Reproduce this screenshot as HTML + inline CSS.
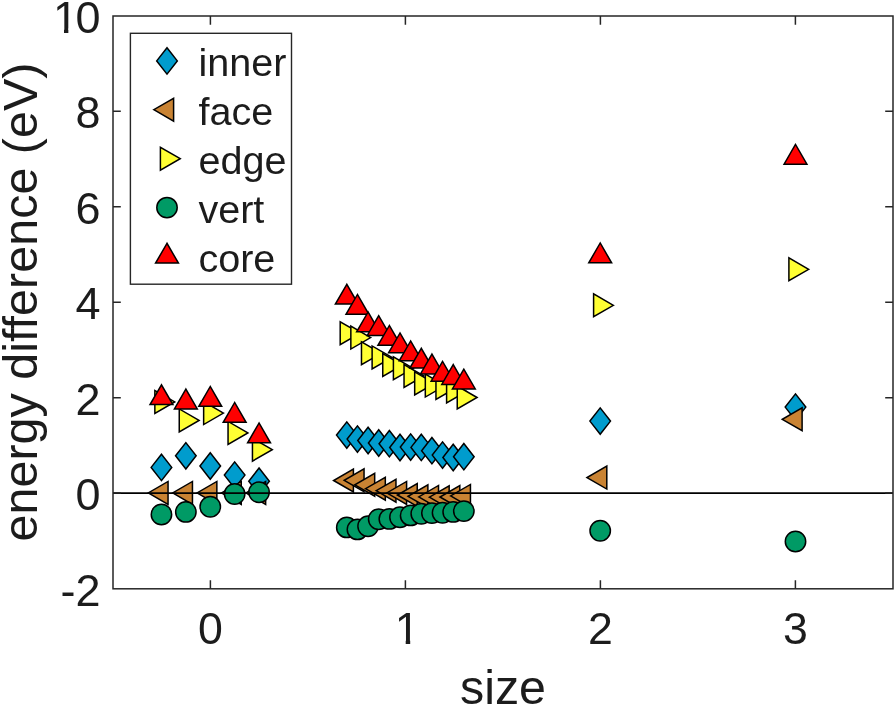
<!DOCTYPE html>
<html><head><meta charset="utf-8"><title>energy difference vs size</title>
<style>html,body{margin:0;padding:0;background:#fff}svg{display:block}text{font-family:"Liberation Sans",Arial,sans-serif;fill:#1c1c1c}</style></head><body>
<svg width="895" height="705" viewBox="0 0 895 705">
<rect width="895" height="705" fill="#fff"/>
<defs><clipPath id="ca"><rect x="40" y="0" width="70" height="28.5"/><rect x="64" y="20" width="4.35" height="20"/><rect x="76.4" y="20" width="35" height="20"/></clipPath>
<clipPath id="cb"><rect x="380" y="600" width="50" height="40.0"/><rect x="405.7" y="630" width="4.5" height="20"/></clipPath></defs>
<g fill="#009CCD" stroke="#000" stroke-width="1.5" stroke-linejoin="miter">
<path d="M161.45 454.20L171.75 467.40L161.45 480.60L151.15 467.40Z"/>
<path d="M185.85 442.60L196.15 455.80L185.85 469.00L175.55 455.80Z"/>
<path d="M210.25 452.80L220.55 466.00L210.25 479.20L199.95 466.00Z"/>
<path d="M234.65 461.90L244.95 475.10L234.65 488.30L224.35 475.10Z"/>
<path d="M259.05 468.00L269.35 481.20L259.05 494.40L248.75 481.20Z"/>
<path d="M346.80 421.90L357.10 435.10L346.80 448.30L336.50 435.10Z"/>
<path d="M357.44 425.90L367.74 439.10L357.44 452.30L347.14 439.10Z"/>
<path d="M368.08 427.30L378.38 440.50L368.08 453.70L357.78 440.50Z"/>
<path d="M378.72 429.80L389.02 443.00L378.72 456.20L368.42 443.00Z"/>
<path d="M389.36 430.50L399.66 443.70L389.36 456.90L379.06 443.70Z"/>
<path d="M400.00 434.30L410.30 447.50L400.00 460.70L389.70 447.50Z"/>
<path d="M410.64 433.90L420.94 447.10L410.64 460.30L400.34 447.10Z"/>
<path d="M421.28 434.20L431.58 447.40L421.28 460.60L410.98 447.40Z"/>
<path d="M431.92 437.50L442.22 450.70L431.92 463.90L421.62 450.70Z"/>
<path d="M442.56 441.90L452.86 455.10L442.56 468.30L432.26 455.10Z"/>
<path d="M453.20 444.30L463.50 457.50L453.20 470.70L442.90 457.50Z"/>
<path d="M463.84 443.50L474.14 456.70L463.84 469.90L453.54 456.70Z"/>
<path d="M600.20 407.90L610.50 421.10L600.20 434.30L589.90 421.10Z"/>
<path d="M795.50 393.90L805.80 407.10L795.50 420.30L785.20 407.10Z"/>
</g>
<g fill="#C98333" stroke="#000" stroke-width="1.5" stroke-linejoin="miter">
<path d="M148.25 492.90L168.05 504.33L168.05 481.47Z"/>
<path d="M172.65 492.90L192.45 504.33L192.45 481.47Z"/>
<path d="M197.05 492.90L216.85 504.33L216.85 481.47Z"/>
<path d="M221.45 492.90L241.25 504.33L241.25 481.47Z"/>
<path d="M245.85 492.90L265.65 504.33L265.65 481.47Z"/>
<path d="M333.60 480.50L353.40 491.93L353.40 469.07Z"/>
<path d="M344.24 480.30L364.04 491.73L364.04 468.87Z"/>
<path d="M354.88 484.80L374.68 496.23L374.68 473.37Z"/>
<path d="M365.52 488.70L385.32 500.13L385.32 477.27Z"/>
<path d="M376.16 490.70L395.96 502.13L395.96 479.27Z"/>
<path d="M386.80 492.90L406.60 504.33L406.60 481.47Z"/>
<path d="M397.44 495.00L417.24 506.43L417.24 483.57Z"/>
<path d="M408.08 496.30L427.88 507.73L427.88 484.87Z"/>
<path d="M418.72 496.90L438.52 508.33L438.52 485.47Z"/>
<path d="M429.36 497.20L449.16 508.63L449.16 485.77Z"/>
<path d="M440.00 497.00L459.80 508.43L459.80 485.57Z"/>
<path d="M450.64 495.90L470.44 507.33L470.44 484.47Z"/>
<path d="M587.00 477.60L606.80 489.03L606.80 466.17Z"/>
<path d="M782.30 419.30L802.10 430.73L802.10 407.87Z"/>
</g>
<g fill="#FFFF33" stroke="#000" stroke-width="1.5" stroke-linejoin="miter">
<path d="M174.65 401.90L154.85 390.47L154.85 413.33Z"/>
<path d="M199.05 420.40L179.25 408.97L179.25 431.83Z"/>
<path d="M223.45 413.10L203.65 401.67L203.65 424.53Z"/>
<path d="M247.85 432.90L228.05 421.47L228.05 444.33Z"/>
<path d="M272.25 449.70L252.45 438.27L252.45 461.13Z"/>
<path d="M360.00 333.20L340.20 321.77L340.20 344.63Z"/>
<path d="M370.64 337.60L350.84 326.17L350.84 349.03Z"/>
<path d="M381.28 353.30L361.48 341.87L361.48 364.73Z"/>
<path d="M391.92 357.40L372.12 345.97L372.12 368.83Z"/>
<path d="M402.56 365.00L382.76 353.57L382.76 376.43Z"/>
<path d="M413.20 368.30L393.40 356.87L393.40 379.73Z"/>
<path d="M423.84 376.00L404.04 364.57L404.04 387.43Z"/>
<path d="M434.48 383.40L414.68 371.97L414.68 394.83Z"/>
<path d="M445.12 385.60L425.32 374.17L425.32 397.03Z"/>
<path d="M455.76 387.90L435.96 376.47L435.96 399.33Z"/>
<path d="M466.40 391.50L446.60 380.07L446.60 402.93Z"/>
<path d="M477.04 397.50L457.24 386.07L457.24 408.93Z"/>
<path d="M613.40 305.30L593.60 293.87L593.60 316.73Z"/>
<path d="M808.70 269.30L788.90 257.87L788.90 280.73Z"/>
</g>
<g fill="#009A65" stroke="#000" stroke-width="1.5" stroke-linejoin="miter">
<circle cx="161.45" cy="514.50" r="10.2"/>
<circle cx="185.85" cy="511.90" r="10.2"/>
<circle cx="210.25" cy="506.80" r="10.2"/>
<circle cx="234.65" cy="494.00" r="10.2"/>
<circle cx="259.05" cy="492.30" r="10.2"/>
<circle cx="346.80" cy="527.40" r="10.2"/>
<circle cx="357.44" cy="529.40" r="10.2"/>
<circle cx="368.08" cy="526.30" r="10.2"/>
<circle cx="378.72" cy="519.30" r="10.2"/>
<circle cx="389.36" cy="518.90" r="10.2"/>
<circle cx="400.00" cy="517.30" r="10.2"/>
<circle cx="410.64" cy="515.40" r="10.2"/>
<circle cx="421.28" cy="513.70" r="10.2"/>
<circle cx="431.92" cy="513.10" r="10.2"/>
<circle cx="442.56" cy="512.80" r="10.2"/>
<circle cx="453.20" cy="511.90" r="10.2"/>
<circle cx="463.84" cy="511.10" r="10.2"/>
<circle cx="600.20" cy="530.70" r="10.2"/>
<circle cx="795.50" cy="541.50" r="10.2"/>
</g>
<g fill="#FF0000" stroke="#000" stroke-width="1.5" stroke-linejoin="miter">
<path d="M161.45 384.80L150.02 404.60L172.88 404.60Z"/>
<path d="M185.85 389.10L174.42 408.90L197.28 408.90Z"/>
<path d="M210.25 386.50L198.82 406.30L221.68 406.30Z"/>
<path d="M234.65 402.50L223.22 422.30L246.08 422.30Z"/>
<path d="M259.05 423.00L247.62 442.80L270.48 442.80Z"/>
<path d="M346.80 284.30L335.37 304.10L358.23 304.10Z"/>
<path d="M357.44 294.50L346.01 314.30L368.87 314.30Z"/>
<path d="M368.08 312.00L356.65 331.80L379.51 331.80Z"/>
<path d="M378.72 315.70L367.29 335.50L390.15 335.50Z"/>
<path d="M389.36 325.50L377.93 345.30L400.79 345.30Z"/>
<path d="M400.00 333.00L388.57 352.80L411.43 352.80Z"/>
<path d="M410.64 341.00L399.21 360.80L422.07 360.80Z"/>
<path d="M421.28 348.30L409.85 368.10L432.71 368.10Z"/>
<path d="M431.92 354.10L420.49 373.90L443.35 373.90Z"/>
<path d="M442.56 361.40L431.13 381.20L453.99 381.20Z"/>
<path d="M453.20 364.60L441.77 384.40L464.63 384.40Z"/>
<path d="M463.84 369.20L452.41 389.00L475.27 389.00Z"/>
<path d="M600.20 243.00L588.77 262.80L611.63 262.80Z"/>
<path d="M795.50 144.45L784.07 164.25L806.93 164.25Z"/>
</g>
<line x1="113.0" y1="493.1" x2="893.0" y2="493.1" stroke="#000" stroke-width="1.55"/>
<g stroke="#262626" stroke-width="1.5" fill="none">
<rect x="113.0" y="16.0" width="780.0" height="572.8"/>
<path d="M210.40 588.80v-8.65 M210.40 16.00v8.65"/>
<path d="M405.40 588.80v-8.65 M405.40 16.00v8.65"/>
<path d="M600.40 588.80v-8.65 M600.40 16.00v8.65"/>
<path d="M795.40 588.80v-8.65 M795.40 16.00v8.65"/>
<path d="M113.00 493.10h7.80 M893.00 493.10h-7.80"/>
<path d="M113.00 397.64h7.80 M893.00 397.64h-7.80"/>
<path d="M113.00 302.18h7.80 M893.00 302.18h-7.80"/>
<path d="M113.00 206.72h7.80 M893.00 206.72h-7.80"/>
<path d="M113.00 111.26h7.80 M893.00 111.26h-7.80"/>
</g>
<g font-size="45" text-anchor="end">
<text x="100.6" y="605.7">-2</text>
<text x="100.6" y="510.2">0</text>
<text x="100.6" y="414.7">2</text>
<text x="100.6" y="319.3">4</text>
<text x="100.6" y="223.8">6</text>
<text x="100.6" y="128.4">8</text>
<text x="100.6" y="32.9" clip-path="url(#ca)">1<tspan dx="-2.4">0</tspan></text>
</g>
<g font-size="44.7" text-anchor="middle">
<text x="210.5" y="644.4">0</text>
<text x="407.1" y="644.4" clip-path="url(#cb)">1</text>
<text x="600.5" y="644.4">2</text>
<text x="795.5" y="644.4">3</text>
</g>
<text x="503" y="704.2" font-size="48.4" text-anchor="middle">size</text>
<text transform="translate(36.5 302.0) rotate(-90)" font-size="48.5" text-anchor="middle">energy difference (eV)</text>
<rect x="130.4" y="33.3" width="161.1" height="250.9" fill="#fff" stroke="#262626" stroke-width="1.4"/>
<g fill="#009CCD" stroke="#000" stroke-width="1.5">
<path d="M167.00 47.70L177.30 60.90L167.00 74.10L156.70 60.90Z"/>
</g>
<text x="198.4" y="75.9" font-size="39.6" fill="#000">inner</text>
<g fill="#C98333" stroke="#000" stroke-width="1.5">
<path d="M153.80 109.70L173.60 121.13L173.60 98.27Z"/>
</g>
<text x="198.4" y="124.7" font-size="39.6" fill="#000">face</text>
<g fill="#FFFF33" stroke="#000" stroke-width="1.5">
<path d="M180.20 158.70L160.40 147.27L160.40 170.13Z"/>
</g>
<text x="198.4" y="173.7" font-size="39.6" fill="#000">edge</text>
<g fill="#009A65" stroke="#000" stroke-width="1.5">
<circle cx="167" cy="207.60" r="10.2"/>
</g>
<text x="198.4" y="222.6" font-size="39.6" fill="#000">vert</text>
<g fill="#FF0000" stroke="#000" stroke-width="1.5">
<path d="M167.00 243.30L155.57 263.10L178.43 263.10Z"/>
</g>
<text x="198.4" y="271.5" font-size="39.6" fill="#000">core</text>
</svg></body></html>
